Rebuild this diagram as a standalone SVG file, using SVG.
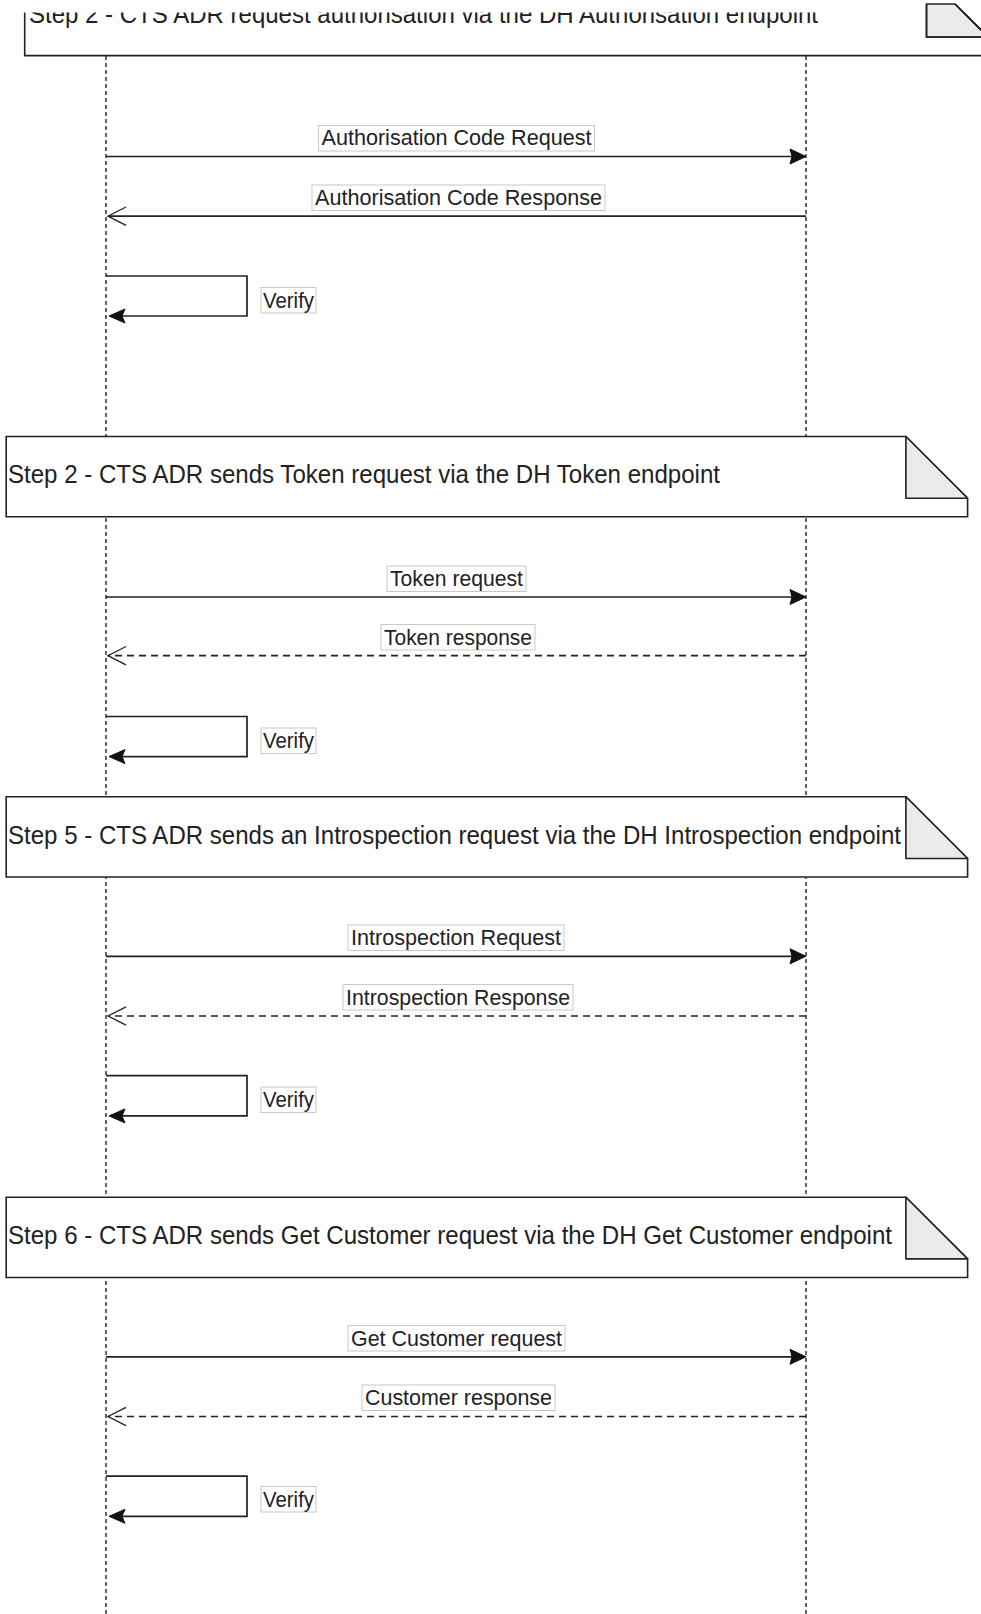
<svg xmlns="http://www.w3.org/2000/svg" width="981" height="1614" viewBox="0 0 981 1614">
<style>
.life{fill:none;stroke:#111;stroke-width:1.3;stroke-dasharray:4 3}
.msg{fill:none;stroke:#222;stroke-width:1.7}
.dash{stroke-dasharray:7 5}
.open{fill:none;stroke:#222;stroke-width:1.3}
.head{fill:#111;stroke:#111;stroke-width:1}
.note{fill:#fff;stroke:#222;stroke-width:1.6}
.fold{fill:#ebebeb;stroke:#222;stroke-width:1.6;stroke-linejoin:round}
.lbox{fill:#fff;stroke:#c8c8c8;stroke-width:1}
.lt{font-family:"Liberation Sans",Arial,sans-serif;font-size:21.5px;fill:#222;text-anchor:middle}
.nt{font-family:"Liberation Sans",Arial,sans-serif;font-size:25px;fill:#222}
</style>
<defs>
<clipPath id="topclip"><rect x="0" y="12.5" width="981" height="60"/></clipPath>
</defs>
<rect width="981" height="1614" fill="#fff"/>
<g id="lifelines">
<line class="life" x1="106" y1="56" x2="106" y2="1614"/>
<line class="life" x1="806" y1="56" x2="806" y2="1614"/>
</g>
<g id="note-auth">
<g clip-path="url(#topclip)">
<path class="note" d="M24.7,-24.7 H926.5 L988,37 V55.6 H24.7 Z"/>
<text class="nt" x="29" y="23" textLength="789" lengthAdjust="spacingAndGlyphs">Step 2 - CTS ADR request authorisation via the DH Authorisation endpoint</text>
</g>
<path class="fold" d="M926.5,4 V37 H988 L955,4 Z" stroke="none"/>
<path fill="none" stroke="#222" stroke-width="1.6" d="M926.5,4 V37 H988 M955,4 L988,37"/>
</g>
<g id="note-token">
<path class="note" d="M6.2,436.5 H905.9 L967.6,498.2 V516.8 H6.2 Z"/>
<path class="fold" d="M905.9,436.5 V498.2 H967.6 Z"/>
<text class="nt" x="8" y="483" textLength="712" lengthAdjust="spacingAndGlyphs">Step 2 - CTS ADR sends Token request via the DH Token endpoint</text>
</g>
<g id="note-intro">
<path class="note" d="M6.2,796.8 H905.9 L967.6,858.5 V877 H6.2 Z"/>
<path class="fold" d="M905.9,796.8 V858.5 H967.6 Z"/>
<text class="nt" x="8" y="844" textLength="893" lengthAdjust="spacingAndGlyphs">Step 5 - CTS ADR sends an Introspection request via the DH Introspection endpoint</text>
</g>
<g id="note-cust">
<path class="note" d="M6.2,1197.2 H905.9 L967.6,1258.9 V1277.5 H6.2 Z"/>
<path class="fold" d="M905.9,1197.2 V1258.9 H967.6 Z"/>
<text class="nt" x="8" y="1244" textLength="884" lengthAdjust="spacingAndGlyphs">Step 6 - CTS ADR sends Get Customer request via the DH Get Customer endpoint</text>
</g>
<g id="connectors">
<line class="msg" x1="106" y1="156.5" x2="794" y2="156.5"/>
<polygon class="head" points="806,156.5 790,149 792,156.5 790,164"/>
<line class="msg" x1="806" y1="216.2" x2="108" y2="216.2"/>
<polyline class="open" points="126,207 108,216.2 126,225.4"/>
<path class="msg" d="M106,276 H247 V316 H115"/>
<polygon class="head" points="109,316 125,309 122,316 125,323"/>
<line class="msg" x1="106" y1="597" x2="794" y2="597"/>
<polygon class="head" points="806,597 790,589.5 792,597 790,604.5"/>
<line class="msg dash" x1="806" y1="655.7" x2="108" y2="655.7"/>
<polyline class="open" points="126,646.5 108,655.7 126,664.9"/>
<path class="msg" d="M106,716.5 H247 V756.6 H115"/>
<polygon class="head" points="109,756.6 125,749.6 122,756.6 125,763.6"/>
<line class="msg" x1="106" y1="956.3" x2="794" y2="956.3"/>
<polygon class="head" points="806,956.3 790,948.8 792,956.3 790,963.8"/>
<line class="msg dash" x1="806" y1="1016" x2="108" y2="1016"/>
<polyline class="open" points="126,1006.8 108,1016 126,1025.2"/>
<path class="msg" d="M106,1075.7 H247 V1115.9 H115"/>
<polygon class="head" points="109,1115.9 125,1108.9 122,1115.9 125,1122.9"/>
<line class="msg" x1="106" y1="1356.8" x2="794" y2="1356.8"/>
<polygon class="head" points="806,1356.8 790,1349.3 792,1356.8 790,1364.3"/>
<line class="msg dash" x1="806" y1="1416.5" x2="108" y2="1416.5"/>
<polyline class="open" points="126,1407.3 108,1416.5 126,1425.7"/>
<path class="msg" d="M106,1476.2 H247 V1516.3 H115"/>
<polygon class="head" points="109,1516.3 125,1509.3 122,1516.3 125,1523.3"/>
</g>
<g id="labels">
<g id="lbl-acreq"><rect class="lbox" x="318.5" y="125.5" width="276" height="25.5"/><text class="lt" x="456.5" y="145.3" textLength="270" lengthAdjust="spacingAndGlyphs">Authorisation Code Request</text></g>
<g id="lbl-acresp"><rect class="lbox" x="312" y="185" width="293" height="25.5"/><text class="lt" x="458.5" y="205" textLength="287" lengthAdjust="spacingAndGlyphs">Authorisation Code Response</text></g>
<g id="lbl-v1"><rect class="lbox" x="261" y="287.5" width="55" height="25.5"/><text class="lt" x="288.5" y="307.5" textLength="51" lengthAdjust="spacingAndGlyphs">Verify</text></g>
<g id="lbl-treq"><rect class="lbox" x="387" y="566" width="139" height="25.5"/><text class="lt" x="456.5" y="586" textLength="133" lengthAdjust="spacingAndGlyphs">Token request</text></g>
<g id="lbl-tresp"><rect class="lbox" x="381" y="624.5" width="154" height="25.5"/><text class="lt" x="458" y="644.5" textLength="148" lengthAdjust="spacingAndGlyphs">Token response</text></g>
<g id="lbl-v2"><rect class="lbox" x="261" y="728" width="55" height="25.5"/><text class="lt" x="288.5" y="748" textLength="51" lengthAdjust="spacingAndGlyphs">Verify</text></g>
<g id="lbl-ireq"><rect class="lbox" x="348" y="925" width="216" height="25.5"/><text class="lt" x="456" y="945" textLength="210" lengthAdjust="spacingAndGlyphs">Introspection Request</text></g>
<g id="lbl-iresp"><rect class="lbox" x="343" y="984.5" width="230" height="25.5"/><text class="lt" x="458" y="1004.5" textLength="224" lengthAdjust="spacingAndGlyphs">Introspection Response</text></g>
<g id="lbl-v3"><rect class="lbox" x="261" y="1087" width="55" height="25.5"/><text class="lt" x="288.5" y="1107" textLength="51" lengthAdjust="spacingAndGlyphs">Verify</text></g>
<g id="lbl-creq"><rect class="lbox" x="348" y="1325.5" width="217" height="25.5"/><text class="lt" x="456.5" y="1345.5" textLength="211" lengthAdjust="spacingAndGlyphs">Get Customer request</text></g>
<g id="lbl-cresp"><rect class="lbox" x="362" y="1385" width="193" height="25.5"/><text class="lt" x="458.5" y="1405" textLength="187" lengthAdjust="spacingAndGlyphs">Customer response</text></g>
<g id="lbl-v4"><rect class="lbox" x="261" y="1486.5" width="55" height="25.5"/><text class="lt" x="288.5" y="1506.5" textLength="51" lengthAdjust="spacingAndGlyphs">Verify</text></g>
</g>
</svg>
